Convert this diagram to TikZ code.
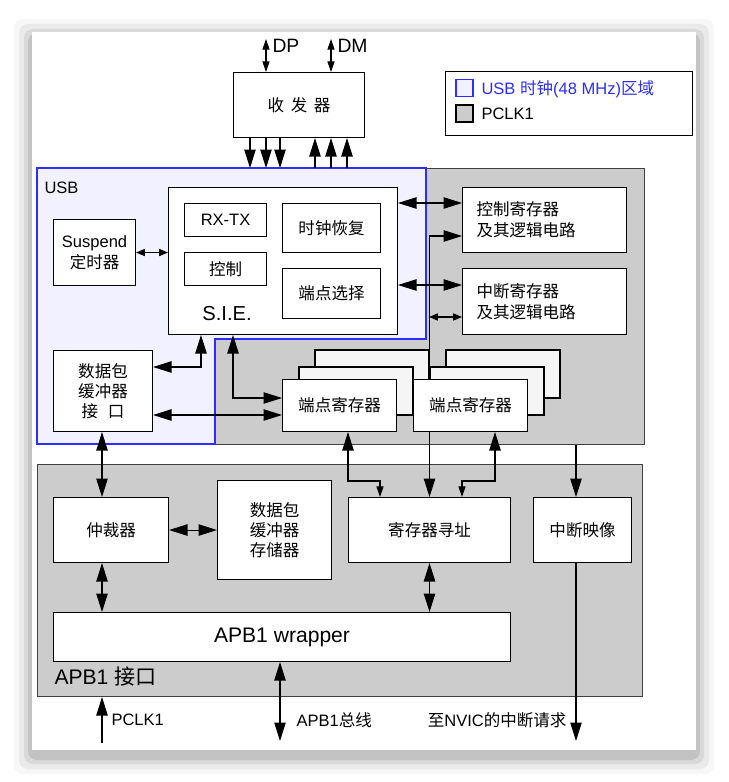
\documentclass[tikz,border=0pt]{standalone}
\usepackage{fontspec}
\setmainfont{Liberation Sans}
\newfontfamily\cjk{Noto Sans CJK SC}
\newcommand{\zh}[1]{{\cjk #1}}
\usetikzlibrary{arrows.meta}

\definecolor{usbblue}{RGB}{45,45,255}
\definecolor{usbfill}{RGB}{241,241,255}
\definecolor{pclkgray}{RGB}{204,204,204}
\definecolor{epgray}{RGB}{245,245,245}

\begin{document}
\begin{tikzpicture}[
  x=0.2mm, y=-0.2mm,
  line width=0.6pt,
  wh/.style 2 args={minimum width=#1*0.2mm, minimum height=#2*0.2mm},
  blk/.style={draw, fill=white, anchor=north west, inner sep=0pt, align=center,
    font=\fontsize{9.4}{12}\selectfont},
  regblk/.style={blk, align=left, inner xsep=2.8mm, text width=27.2mm},
  region/.style={draw=black!75, fill=pclkgray, anchor=north west, inner sep=0pt},
  lbl/.style={inner sep=0pt, font=\fontsize{9.4}{12}\selectfont},
  dbl/.style={{Triangle[length=10.5pt,width=6.5pt]}-{Triangle[length=10.5pt,width=6.5pt]}},
  sgl/.style={-{Triangle[length=10.5pt,width=6.5pt]}},
  mdbl/.style={{Triangle[length=6pt,width=4pt]}-{Triangle[length=6pt,width=4pt]}},
  sdbl/.style={{Triangle[length=5pt,width=4pt]}-{Triangle[length=5pt,width=4pt]}}
]
\useasboundingbox (0,0) rectangle (728,782);

% page
\foreach \s/\o in {18/0.03, 13/0.05, 8/0.07, 4/0.1}
  \fill[black, opacity=\o, rounded corners=5pt] (32-\s,32-\s+5) rectangle (696+\s,750+\s+6);
\fill[white] (32,32) rectangle (696,750);

% clock domains
\node[region, wh={607}{276}] (pclkdom) at (37,168) {};
\draw[draw=usbblue, fill=usbfill] (37,168) -- (426,168) -- (426,339) -- (215,339)
  -- (215,444) -- (37,444) -- cycle;
\node[lbl, anchor=west] (usblbl) at (44,188) {USB};
\node[region, wh={605}{232}] (apbdom) at (37,464) {};
\node[lbl, anchor=west, font=\fontsize{12}{14}\selectfont] (apblbl) at (54,677) {APB1 \zh{接口}};

% legend
\node[draw, fill=white, anchor=north west, wh={247}{64}] (legend) at (445,71) {};
\node[draw=usbblue, fill=usbfill, minimum size=3.4mm, inner sep=0pt] (usbkey) at (464.5,88) {};
\node[draw, fill=pclkgray, minimum size=3.4mm, inner sep=0pt] (pclkkey) at (464.5,113.5) {};
\node[lbl, anchor=west, text=usbblue] (usbtxt) at (481,89) {USB \zh{时钟}(48 MHz)\zh{区域}};
\node[lbl, anchor=west] (pclktxt) at (481,114) {PCLK1};

% transceiver
\node[blk, wh={131}{65}] (xcvr) at (233,72) {\zh{收\hspace{0.4em}发\hspace{0.4em}器}};
\coordinate (dp) at (266,39);
\coordinate (dm) at (331,39);
\draw[mdbl] (dp) -- (dp |- xcvr.north);
\draw[mdbl] (dm) -- (dm |- xcvr.north);
\node[lbl, anchor=west, font=\fontsize{11}{13}\selectfont] (dplbl) at (272,46) {DP};
\node[lbl, anchor=west, font=\fontsize{11}{13}\selectfont] (dmlbl) at (337,46) {DM};
\foreach \x in {250,266,280}
  \draw[sgl] (xcvr.south -| \x,0) -- (pclkdom.north -| \x,0);
\foreach \x in {315,331,347}
  \draw[sgl] (pclkdom.north -| \x,0) -- (xcvr.south -| \x,0);

% APB1 side
\node[blk, wh={115}{65}] (arb) at (53,497) {\zh{仲裁器}};
\node[blk, wh={114}{99}, font=\fontsize{9.4}{11.5}\selectfont] (pbmem) at (217,480)
  {\zh{数据包}\\\zh{缓冲器}\\\zh{存储器}};
\node[blk, wh={162}{65}] (regaddr) at (348,497) {\zh{寄存器寻址}};
\node[blk, wh={98}{65}] (intmap) at (533,497) {\zh{中断映像}};
\node[blk, wh={457}{49}, font=\fontsize{12}{14}\selectfont] (apbwrap) at (53,612) {APB1 wrapper};

% USB side
\node[blk, wh={82}{66}] (susp) at (53,219) {Suspend\\\zh{定时器}};
\node[blk, wh={99}{81}, font=\fontsize{9.4}{11.5}\selectfont] (pbif) at (53,350)
  {\zh{数据包}\\\zh{缓冲器}\\\zh{接\hspace{0.6em}口}};
\node[blk, wh={229}{147}] (sie) at (168,187) {};
\node[blk, wh={82}{33}] (rxtx) at (184,203) {RX-TX};
\node[blk, wh={82}{33}] (ctl) at (184,252) {\zh{控制}};
\node[blk, wh={98}{49}] (clkrec) at (282,203) {\zh{时钟恢复}};
\node[blk, wh={98}{50}] (epsel) at (282,268) {\zh{端点选择}};
\node[lbl, font=\fontsize{11.5}{13}\selectfont] (sielbl) at (227,314) {S.I.E.};
\node[regblk, wh={164}{65}] (ctrlreg) at (462,187) {\zh{控制寄存器}\\\zh{及其逻辑电路}};
\node[regblk, wh={164}{66}] (intreg) at (462,268) {\zh{中断寄存器}\\\zh{及其逻辑电路}};

% lines behind the endpoint registers
\draw[dbl] (regaddr.north) |- (ctrlreg.west |- 0,236);
\coordinate (tap) at (429,317);
\draw[sdbl] (tap) -- (intreg.west |- tap);

% endpoint registers
\foreach \dx/\dy in {33/-29, 17/-12}
  \draw[fill=epgray] (282+\dx,379+\dy) rectangle ++(114,48);
\node[blk, wh={114}{52}] (ep1) at (282,379) {\zh{端点寄存器}};
\foreach \dx/\dy in {33/-29, 17/-12}
  \draw[fill=epgray] (413+\dx,379+\dy) rectangle ++(114,48);
\node[blk, wh={114}{52}] (ep2) at (413,379) {\zh{端点寄存器}};

% connections
\draw[sdbl] (susp.east) -- (sie.west |- susp.east);
\draw[dbl] (sie.east |- 0,203) -- (ctrlreg.west |- 0,203);
\draw[dbl] (sie.east |- 0,285) -- (intreg.west |- 0,285);
\draw[dbl] (sie.south -| 201,0) |- (pbif.east |- 0,367);
\draw[dbl] (sie.south -| 233,0) |- (ep1.west |- 0,398);
\draw[dbl] (pbif.east |- 0,415) -- (ep1.west |- 0,415);
\draw[dbl] (pbif.south -| 102,0) -- (arb.north -| 102,0);
\draw[dbl] (arb.east) -- (pbmem.west |- arb.east);
\draw[dbl] (arb.south -| 102,0) -- (apbwrap.north -| 102,0);
\draw[dbl] (regaddr.south) -- (regaddr.south |- apbwrap.north);
\draw[{Triangle[length=10.5pt,width=6.5pt]}-{Triangle[length=6pt,width=4pt]}]
  (ep1.south -| 348,0) -- (348,481) -- (380,481) -- (regaddr.north -| 380,0);
\draw[{Triangle[length=10.5pt,width=6.5pt]}-{Triangle[length=6pt,width=4pt]}]
  (ep2.south -| 495,0) -- (495,481) -- (462,481) -- (regaddr.north -| 462,0);
\draw[sgl] (pclkdom.south -| 576,0) -- (intmap.north -| 576,0);

% outside signals
\coordinate (pclkin) at (102,743);
\coordinate (apbbus) at (280,741);
\coordinate (nvic) at (576,741);
\draw[sgl] (pclkin) -- (apbdom.south -| pclkin);
\draw[dbl] (apbwrap.south -| apbbus) -- (apbbus);
\draw[sgl] (intmap.south -| nvic) -- (nvic);
\node[lbl, anchor=west] (pclklbl) at (111,720) {PCLK1};
\node[lbl, anchor=west] (buslbl) at (296,720) {APB1\zh{总线}};
\node[lbl, anchor=east] (nviclbl) at (567,720) {\zh{至}NVIC\zh{的中断请求}};

\end{tikzpicture}
\end{document}
